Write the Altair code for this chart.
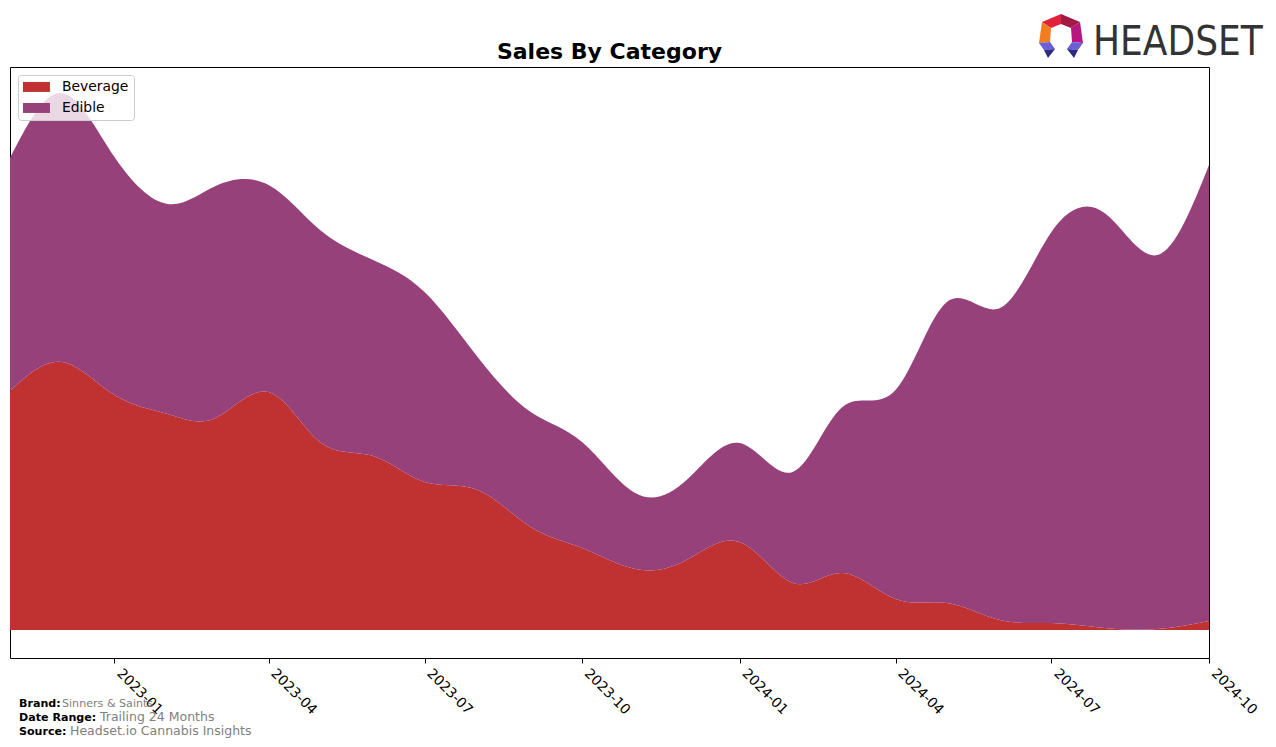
import altair as alt
import pandas as pd

# ---- data ----
months = [
    "2022-11-01", "2022-12-01", "2023-01-01", "2023-02-01", "2023-03-01", "2023-04-01",
    "2023-05-01", "2023-06-01", "2023-07-01", "2023-08-01", "2023-09-01", "2023-10-01",
    "2023-11-01", "2023-12-01", "2024-01-01", "2024-02-01", "2024-03-01", "2024-04-01",
    "2024-05-01", "2024-06-01", "2024-07-01", "2024-08-01", "2024-09-01", "2024-10-01",
]
beverage = [239, 268, 235, 216, 212, 238, 188, 174, 148, 140, 103, 82,
            61, 70, 88, 47, 57, 31, 27, 10, 7, 2, 1, 9]
edible = [233, 269, 238, 210, 232, 207, 212, 196, 190, 133, 115, 106,
          76, 80, 99, 111, 166, 209, 301, 312, 391, 415, 374, 456]
categories = ["Beverage", "Edible"]
colors = ["#c03232", "#96417a"]
tick_months = [(2023, 1), (2023, 4), (2023, 7), (2023, 10),
               (2024, 1), (2024, 4), (2024, 7), (2024, 10)]

chart_title = "Sales By Category"
footer_labels = ["Brand:", "Date Range:", "Source:"]
footer_values = ["Sinners & Saints", "Trailing 24 Months", "Headset.io Cannabis Insights"]

logo_paths = [
    "M-19,-14L0,-22L0,-12L-10,-8Z",
    "M0,-22L19,-14L10,-8L0,-12Z",
    "M-19,-14L-10,-8L-11,6L-22,7Z",
    "M19,-14L22,7L11,6L10,-8Z",
    "M-22,7L-11,6L-6,13L-17,14Z",
    "M-17,14L-6,13L-13,22Z",
    "M22,7L11,6L6,13L17,14Z",
    "M17,14L6,13L13,22Z",
]
logo_colors = ["#e0233c", "#a31a45", "#f47c20", "#b8177f",
               "#6a5fd8", "#2d2b7f", "#6a5fd8", "#2d2b7f"]

# ---- tables ----
df = pd.DataFrame({
    "month": months * 2,
    "category": [categories[0]] * len(months) + [categories[1]] * len(months),
    "sales": beverage + edible,
    "order": [0] * len(months) + [1] * len(months),
})

W, H = 1199, 591

x_domain = [alt.DateTime(year=2022, month=11, date=1, utc=True),
            alt.DateTime(year=2024, month=10, date=1, utc=True)]
tick_vals = [alt.DateTime(year=y, month=m, date=1, utc=True) for y, m in tick_months]

area = alt.Chart(df).mark_area(interpolate="natural", opacity=1).encode(
    x=alt.X(
        "month:T",
        scale=alt.Scale(type="utc", domain=x_domain, nice=False),
        axis=alt.Axis(
            values=tick_vals, format="%Y-%m", title=None, grid=False, domain=False,
            ticks=True, tickSize=5, tickColor="black", tickWidth=1,
            labelAngle=45, labelAlign="left", labelBaseline="top", labelPadding=3,
            labelOffset=9,
            labelFont="DejaVu Sans", labelFontSize=13.9, labelColor="black",
            labelOverlap=False, labelFlush=False,
        ),
    ),
    y=alt.Y("sales:Q", stack="zero",
            scale=alt.Scale(domain=[-28, 563], nice=False, zero=False), axis=None),
    color=alt.Color(
        "category:N",
        scale=alt.Scale(domain=categories, range=colors),
        legend=alt.Legend(
            title=None, orient="top-left", offset=8, padding=5,
            fillColor="rgba(255,255,255,0.8)", strokeColor="#cccccc", cornerRadius=3,
            labelFont="DejaVu Sans", labelFontSize=13.9, labelColor="black",
            symbolType="M-1.4,-1H4V1H-1.4Z", symbolSize=100, symbolStrokeWidth=0,
            symbolOpacity=1, labelOffset=25, rowPadding=6,
        ),
    ),
    order=alt.Order("order:Q"),
)


def text_layer(txt, x, y, size, bold, color, font="DejaVu Sans", align="left"):
    return alt.Chart(pd.DataFrame({"t": [txt]})).mark_text(
        align=align, baseline="alphabetic", font=font, fontSize=size,
        fontWeight="bold" if bold else "normal", color=color,
    ).encode(x=alt.value(x), y=alt.value(y), text="t:N")


title_layer = text_layer(chart_title, W / 2, -8, 22, True, "black", align="center")

footer = [
    text_layer(footer_labels[0], 9, 640, 11.1, True, "black"),
    text_layer(footer_values[0], 52, 640, 11.1, False, "#808080"),
    text_layer(footer_labels[1], 9, 654, 11.1, True, "black"),
    text_layer(footer_values[1], 90, 654, 12.5, False, "#808080"),
    text_layer(footer_labels[2], 9, 668, 11.1, True, "black"),
    text_layer(footer_values[2], 60, 668, 12.5, False, "#808080"),
]

logo_text = text_layer("HEADSET", 1083, -12, 40, False, "#333333",
                       font="Liberation Sans Narrow, DejaVu Sans Condensed, sans-serif")

logo_icon = alt.Chart(pd.DataFrame({"path": logo_paths, "color": logo_colors})).mark_point(
    filled=True, opacity=1, strokeWidth=0
).encode(
    x=alt.value(1051), y=alt.value(-31), size=alt.value(4),
    shape=alt.Shape("path:N", scale=None),
    color=alt.Color("color:N", scale=None),
)

chart = alt.layer(area, title_layer, *footer, logo_text, logo_icon).properties(
    width=W, height=H,
    autosize=alt.AutoSizeParams(type="none"),
    padding={"left": 2, "top": 59, "right": 55, "bottom": 80},
    background="white",
).configure_view(stroke="black", strokeWidth=1)

chart.save("out.html", embed_options={"renderer": "svg", "actions": False})
